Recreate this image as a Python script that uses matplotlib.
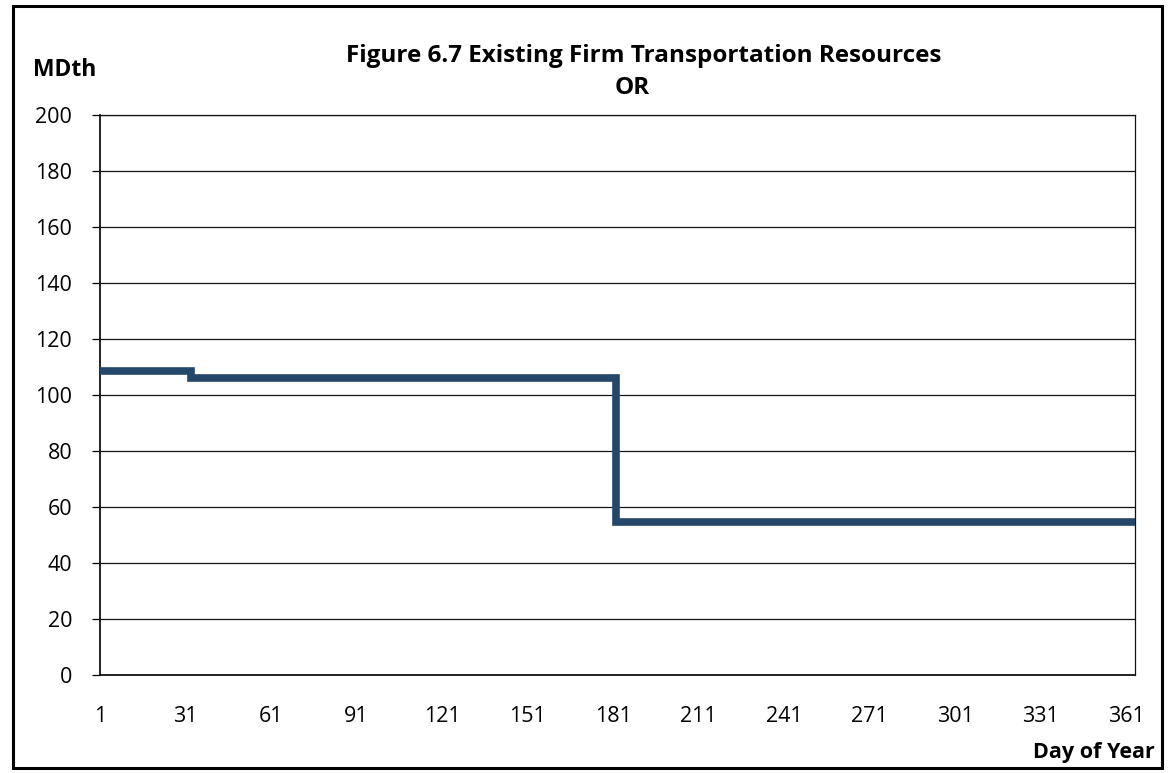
import matplotlib.pyplot as plt
from matplotlib.patches import Rectangle

# firm transportation capacity, MDth: level held from each start day onward
step_days = [1, 33, 182, 365]
capacity = [108.5, 106, 54.5, 54.5]

x_ticks = list(range(1, 362, 30))
y_ticks = list(range(0, 201, 20))

LINE_COLOR = "#24486a"
plt.rcParams["font.family"] = ["Open Sans", "DejaVu Sans"]

fig = plt.figure(figsize=(11.74, 7.73), dpi=100)
ax = fig.add_axes([0.0852, 0.1268, 0.8816, 0.7244])

ax.plot(step_days, capacity, drawstyle="steps-post", color=LINE_COLOR,
        linewidth=5.5, solid_joinstyle="miter", zorder=3)

ax.set_xlim(1, 364)
ax.set_ylim(0, 200)
ax.set_xticks(x_ticks)
ax.set_yticks(y_ticks)
ax.tick_params(axis="x", length=0, pad=22, labelsize=15.5)
ax.tick_params(axis="y", length=6, width=0.9, direction="out", pad=14,
               labelsize=15.5)
ax.grid(axis="y", color="#111111", linewidth=0.9)
ax.set_axisbelow(True)
for side, spine in ax.spines.items():
    spine.set_color("#111111")
    spine.set_linewidth(1.3 if side in ("left", "bottom") else 0.9)

fig.text(0.5485, 0.928, "Figure 6.7 Existing Firm Transportation Resources",
         ha="center", va="center", fontsize=17.5, fontweight="bold")
fig.text(0.5385, 0.886, "OR", ha="center", va="center", fontsize=17.5,
         fontweight="bold")
fig.text(0.028, 0.909, "MDth", ha="left", va="center", fontsize=16.5,
         fontweight="bold")
fig.text(0.984, 0.027, "Day of Year", ha="right", va="center", fontsize=15.5,
         fontweight="bold")

# border round the whole figure
fig.patches.append(Rectangle((0.011, 0.007), 0.979, 0.985, transform=fig.transFigure,
                             fill=False, edgecolor="black", linewidth=2.2))

fig.savefig("out.png", dpi=100)
